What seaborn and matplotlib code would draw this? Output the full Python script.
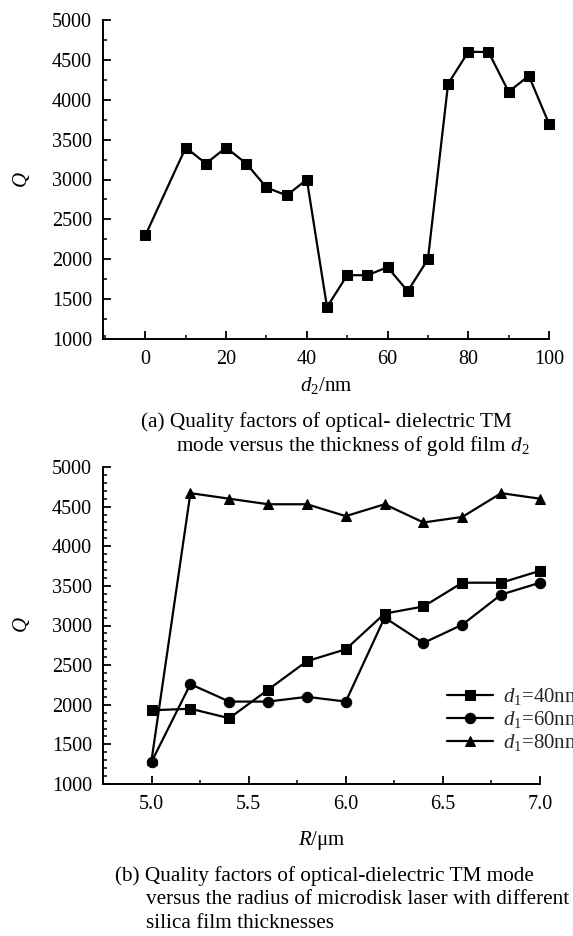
import numpy as np
import pandas as pd
import matplotlib
matplotlib.use("Agg")
import matplotlib.pyplot as plt
from matplotlib.ticker import MultipleLocator
import seaborn as sns

# ---- data ----
d2_nm = [0, 10, 15, 20, 25, 30, 35, 40, 45, 50, 55, 60, 65, 70, 75, 80, 85, 90, 95, 100]
q_d2 = [2300, 3400, 3200, 3400, 3200, 2900, 2800, 3000, 1400, 1800, 1800, 1900, 1600, 2000,
        4200, 4600, 4600, 4100, 4300, 3700]

radius_um = [5.0, 5.2, 5.4, 5.6, 5.8, 6.0, 6.2, 6.4, 6.6, 6.8, 7.0]
q_d1_40 = [1930, 1950, 1830, 2190, 2550, 2700, 3150, 3240, 3540, 3540, 3690]
q_d1_60 = [1280, 2260, 2040, 2040, 2100, 2040, 3100, 2780, 3010, 3390, 3540]
q_d1_80 = [1300, 4670, 4600, 4530, 4530, 4380, 4530, 4300, 4370, 4670, 4600]
series_labels = ["$d_1$=40nm", "$d_1$=60nm", "$d_1$=80nm"]

sns.set_theme(style="ticks")
plt.rcParams["font.family"] = ["Liberation Serif", "DejaVu Serif"]
plt.rcParams["mathtext.fontset"] = "custom"
plt.rcParams["mathtext.rm"] = "Liberation Serif"
plt.rcParams["mathtext.it"] = "Liberation Serif:italic"

W, H = 573, 936
fig = plt.figure(figsize=(W / 100, H / 100), dpi=100)
FS = 14.5
CAP = 15.3


def px_axes(l, t, r, b):
    return fig.add_axes([l / W, 1 - b / H, (r - l) / W, (b - t) / H])


def style_axes(ax):
    sns.despine(ax=ax)
    for s in ("left", "bottom"):
        ax.spines[s].set_linewidth(1.4)
        ax.spines[s].set_color("black")
    ax.tick_params(which="major", direction="in", length=5.5, width=1.3, labelsize=FS,
                   colors="black", pad=8)
    ax.tick_params(which="minor", direction="in", length=3, width=1.1, colors="black")
    ax.grid(False)
    ax.set_facecolor("white")
    for ln in ax.get_lines():
        ln.set_clip_on(False)


# ---- panel (a) ----
ax1 = px_axes(103, 20, 549, 339)
df_a = pd.DataFrame({"d2": d2_nm, "Q": q_d2})
sns.lineplot(data=df_a, x="d2", y="Q", ax=ax1, color="black", lw=1.6, marker="s",
             markersize=7, markeredgecolor="black", markerfacecolor="black")
ax1.set_xlim(-10.5, 100)
ax1.set_ylim(1000, 5000)
ax1.xaxis.set_major_locator(MultipleLocator(20))
ax1.xaxis.set_minor_locator(MultipleLocator(10))
ax1.yaxis.set_major_locator(MultipleLocator(500))
ax1.yaxis.set_minor_locator(MultipleLocator(250))
style_axes(ax1)
ax1.set_xlabel("")
ax1.set_ylabel("")

# ---- panel (b) ----
ax2 = px_axes(103, 467, 540, 784)
df_b = pd.DataFrame({
    "R": radius_um * 3,
    "Q": q_d1_40 + q_d1_60 + q_d1_80,
    "series": [series_labels[0]] * len(radius_um) + [series_labels[1]] * len(radius_um)
              + [series_labels[2]] * len(radius_um),
})
sns.lineplot(data=df_b, x="R", y="Q", hue="series", style="series", ax=ax2,
             palette=["black"] * 3, markers=["s", "o", "^"], dashes=False,
             markersize=7.5, markeredgecolor="black", lw=1.6)
ax2.set_xlim(4.75, 7.0)
ax2.set_ylim(1000, 5000)
ax2.xaxis.set_major_locator(MultipleLocator(0.5))
ax2.xaxis.set_minor_locator(MultipleLocator(0.25))
ax2.yaxis.set_major_locator(MultipleLocator(500))
ax2.yaxis.set_minor_locator(MultipleLocator(100))
ax2.xaxis.set_major_formatter(matplotlib.ticker.FormatStrFormatter("%.1f"))
style_axes(ax2)
ax2.set_xlabel("")
ax2.set_ylabel("")
handles, labels = ax2.get_legend_handles_labels()
ax2.legend(handles, labels, loc="upper left", bbox_to_anchor=(447 / W, 1 - 686 / H),
           bbox_transform=fig.transFigure, frameon=False, fontsize=15, borderpad=0,
           borderaxespad=0, handlelength=2.2, handletextpad=0.5, labelspacing=0.1)


def ftext(x, y, s, size=FS, **kw):
    fig.text(x / W, 1 - y / H, s, fontsize=size, color="black", va="center", **kw)


# axis labels
ftext(22, 180, "$Q$", size=15, rotation=90, ha="center")
ftext(22, 625, "$Q$", size=15, rotation=90, ha="center")
ftext(326, 386, "$d_2$/nm", size=15, ha="center")
ftext(322, 841, "$R$/μm", size=15, ha="center")

# captions
ftext(141, 422, "(a) Quality factors of optical- dielectric TM", size=CAP, ha="left")
ftext(176, 446, "mode versus the thickness of gold film $d_2$", size=CAP, ha="left")
ftext(115, 876, "(b) Quality factors of optical-dielectric TM mode", size=CAP, ha="left")
ftext(146, 900, "versus the radius of microdisk laser with different", size=CAP, ha="left")
ftext(146, 923, "silica film thicknesses", size=CAP, ha="left")

fig.savefig("out.png", dpi=100, facecolor="white")
